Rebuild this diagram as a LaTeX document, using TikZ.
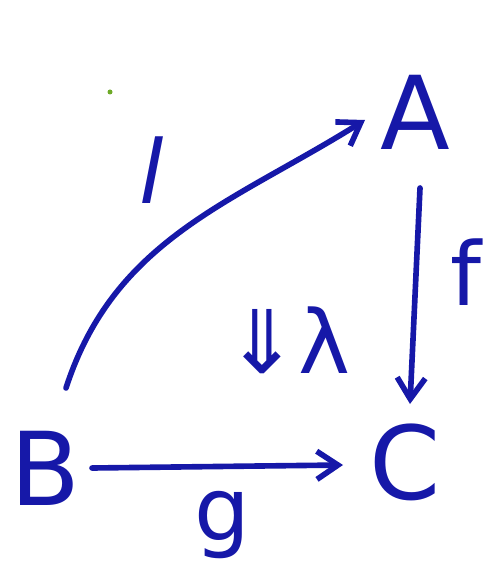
\documentclass[tikz,border=0pt]{standalone}
\usepackage{fontspec}
\setmainfont{DejaVu Sans}
\usetikzlibrary{arrows.meta}
\definecolor{penblue}{RGB}{22,24,168}
\definecolor{pengreen}{RGB}{110,170,40}
\begin{document}
\begin{tikzpicture}[x=0.02cm,y=-0.02cm,
obj/.style={text=penblue,font=\fontsize{58}{58}\selectfont,inner sep=0pt},
lbl/.style={text=penblue,font=\fontsize{50}{50}\selectfont,inner sep=0pt},
arr/.style={draw=penblue,line width=3.2pt,line cap=round,
  -{Straight Barb[length=12pt,width=16pt,line width=3.2pt]}},]
\useasboundingbox (0,0) rectangle (499,580);
\node[obj] (A) at (415,112) {A};
\node[obj] (C) at (405,462) {C};
\node[obj] (B) at (45,468) {B};
% arrow ends
\coordinate (bs) at (66,388);
\coordinate (ae) at (365,120);
\coordinate (as) at (420,188);
\coordinate (ce) at (410,404);
\coordinate (bc) at (92,468);
\coordinate (cb) at (343,465);
\draw[arr] (bs) to[out=72,in=212] (ae);
\draw[arr] (as) -- (ce);
\draw[arr] (bc) -- (cb);
% labels
\node[lbl] (l) at (152,170) {\itshape l};
\node[lbl] (f) at (466,272) {f};
\node[lbl] (g) at (222,525) {g};
\node[lbl] (lam) at (288,340) {⇓λ};
\fill[pengreen] (110,92) circle (2.5);
\end{tikzpicture}
\end{document}
